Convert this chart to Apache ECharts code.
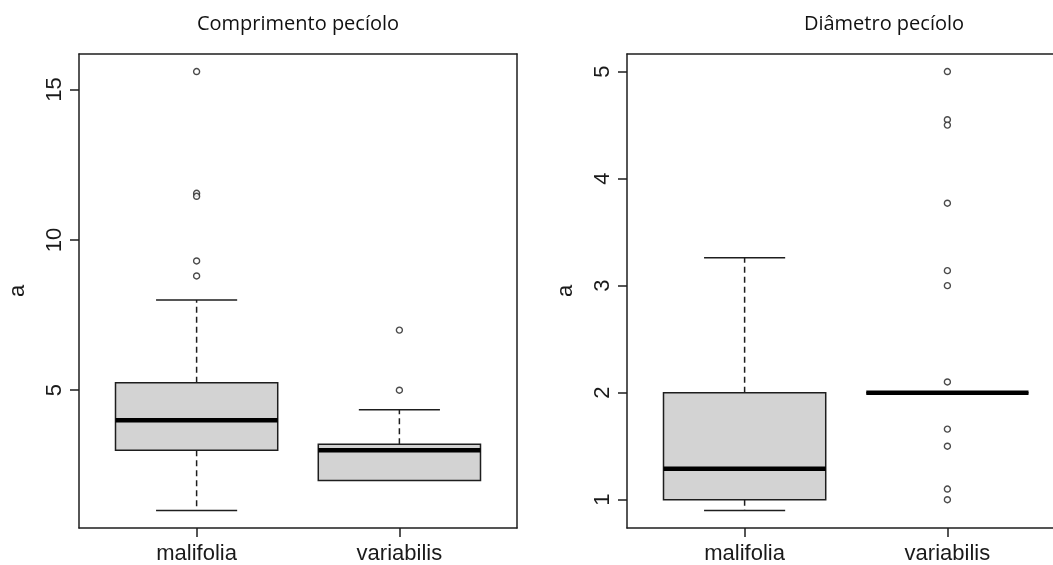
<!DOCTYPE html>
<html>
<head>
<meta charset="utf-8">
<script src="https://cdn.jsdelivr.net/npm/echarts@6/dist/echarts.min.js"></script>
<style>
html,body{margin:0;padding:0;background:#fff;overflow:hidden;}
#chart{width:1053px;height:565px;}
</style>
</head>
<body>
<div id="chart"></div>
<script>
// ---- data ----
const categories = ['malifolia', 'variabilis'];
const titleLeft = 'Comprimento pecíolo';
const titleRight = 'Diâmetro pecíolo';
const yName = 'a';
// [lower whisker, Q1, median, Q3, upper whisker]
const comprimentoStats = [[1.0, 3.0, 4.0, 5.25, 8.0], [2.0, 2.0, 3.0, 3.2, 4.35]];
const comprimentoOutliers = [[15.6, 11.55, 11.45, 9.3, 8.8], [7.0, 5.0]];
const diametroStats = [[0.9, 1.0, 1.29, 2.0, 3.26], [2.0, 2.0, 2.0, 2.0, 2.0]];
const diametroOutliers = [[], [5.0, 4.55, 4.5, 3.77, 3.14, 3.0, 2.1, 1.66, 1.5, 1.1, 1.0]];
const leftTicks = [5, 10, 15];
const rightTicks = [1, 2, 3, 4, 5];
const catPositions = [1, 2];

// ---- helpers ----
function range(stats, outliers) {
  let lo = Infinity, hi = -Infinity;
  stats.forEach(s => s.forEach(v => { lo = Math.min(lo, v); hi = Math.max(hi, v); }));
  outliers.forEach(o => o.forEach(v => { lo = Math.min(lo, v); hi = Math.max(hi, v); }));
  const pad = 0.04 * (hi - lo);
  return [lo - pad, hi + pad];
}
const leftRange = range(comprimentoStats, comprimentoOutliers);
const rightRange = range(diametroStats, diametroOutliers);

const ink = '#1e1e1e';
const labelFont = 'Liberation Sans, Arial, sans-serif';

function boxData(stats) {
  return stats.map((s, i) => [catPositions[i]].concat(s));
}
function outlierData(outs) {
  const d = [];
  outs.forEach((o, i) => o.forEach(v => d.push([catPositions[i], v])));
  return d;
}

function renderBox(params, api) {
  const x = api.value(0), lo = api.value(1), q1 = api.value(2), med = api.value(3), q3 = api.value(4), hi = api.value(5);
  const halfBox = api.size([0.4, 0])[0];
  const halfCap = api.size([0.2, 0])[0];
  const pLo = api.coord([x, lo]), pQ1 = api.coord([x, q1]), pMed = api.coord([x, med]), pQ3 = api.coord([x, q3]), pHi = api.coord([x, hi]);
  const cx = pMed[0];
  const children = [];
  const thin = { stroke: ink, lineWidth: 1.5 };
  if (hi > q3) {
    children.push({ type: 'line', shape: { x1: cx, y1: pQ3[1], x2: cx, y2: pHi[1] }, style: { stroke: ink, lineWidth: 1.5, lineDash: [6, 4] } });
    children.push({ type: 'line', shape: { x1: cx - halfCap, y1: pHi[1], x2: cx + halfCap, y2: pHi[1] }, style: thin });
  }
  if (lo < q1) {
    children.push({ type: 'line', shape: { x1: cx, y1: pQ1[1], x2: cx, y2: pLo[1] }, style: { stroke: ink, lineWidth: 1.5, lineDash: [6, 4] } });
    children.push({ type: 'line', shape: { x1: cx - halfCap, y1: pLo[1], x2: cx + halfCap, y2: pLo[1] }, style: thin });
  }
  children.push({ type: 'rect', shape: { x: cx - halfBox, y: pQ3[1], width: 2 * halfBox, height: pQ1[1] - pQ3[1] }, style: { fill: '#d3d3d3', stroke: ink, lineWidth: 1.5 } });
  children.push({ type: 'line', shape: { x1: cx - halfBox, y1: pMed[1], x2: cx + halfBox, y2: pMed[1] }, style: { stroke: '#000', lineWidth: 4.5 } });
  return { type: 'group', children: children };
}

const frameLine = { show: true, lineStyle: { color: ink, width: 1.5 } };
function xAxisDef(gridIndex) {
  return {
    gridIndex: gridIndex, type: 'value', min: 0.42, max: 2.58, position: 'bottom',
    axisLine: frameLine, splitLine: { show: false },
    axisTick: { show: true, customValues: catPositions, length: 9, lineStyle: { color: ink, width: 1.5 } },
    axisLabel: { customValues: catPositions, formatter: v => categories[Math.round(v) - 1], fontSize: 22, fontFamily: labelFont, color: '#1a1a1a', margin: 15 }
  };
}
function topAxisDef(gridIndex) {
  return {
    gridIndex: gridIndex, type: 'value', min: 0.42, max: 2.58, position: 'top',
    axisLine: frameLine, splitLine: { show: false }, axisTick: { show: false }, axisLabel: { show: false }
  };
}
function yAxisDef(gridIndex, rng, ticks) {
  return {
    gridIndex: gridIndex, type: 'value', min: rng[0], max: rng[1], position: 'left',
    name: yName, nameLocation: 'middle', nameGap: 50, nameRotate: 90,
    nameTextStyle: { fontSize: 22, fontFamily: labelFont, color: '#1a1a1a' },
    axisLine: frameLine, splitLine: { show: false },
    axisTick: { show: true, customValues: ticks, length: 9, lineStyle: { color: ink, width: 1.5 } },
    axisLabel: { customValues: ticks, rotate: 90, fontSize: 22, fontFamily: labelFont, color: '#1a1a1a', margin: 13 }
  };
}
function rightAxisDef(gridIndex, rng) {
  return {
    gridIndex: gridIndex, type: 'value', min: rng[0], max: rng[1], position: 'right',
    axisLine: frameLine, splitLine: { show: false }, axisTick: { show: false }, axisLabel: { show: false }
  };
}

const chart = echarts.init(document.getElementById('chart'));
chart.setOption({
  animation: false,
  backgroundColor: '#fff',
  title: [
    { text: titleLeft, left: 293, top: 9, textAlign: 'center', textStyle: { fontFamily: 'Open Sans', fontWeight: 'normal', fontSize: 20, color: '#111' } },
    { text: titleRight, left: 879, top: 9, textAlign: 'center', textStyle: { fontFamily: 'Open Sans', fontWeight: 'normal', fontSize: 20, color: '#111' } }
  ],
  grid: [
    { left: 79, top: 54, width: 438, height: 474, outerBoundsMode: 'none' },
    { left: 627, top: 54, width: 438, height: 474, outerBoundsMode: 'none' }
  ],
  xAxis: [xAxisDef(0), topAxisDef(0), xAxisDef(1), topAxisDef(1)],
  yAxis: [yAxisDef(0, leftRange, leftTicks), rightAxisDef(0, leftRange), yAxisDef(1, rightRange, rightTicks), rightAxisDef(1, rightRange)],
  series: [
    { type: 'custom', xAxisIndex: 0, yAxisIndex: 0, renderItem: renderBox, data: boxData(comprimentoStats), encode: { x: 0, y: [1, 2, 3, 4, 5] } },
    { type: 'scatter', xAxisIndex: 0, yAxisIndex: 0, data: outlierData(comprimentoOutliers), symbol: 'circle', symbolSize: 6, itemStyle: { color: '#fff', borderColor: ink, borderWidth: 1.4 } },
    { type: 'custom', xAxisIndex: 2, yAxisIndex: 2, renderItem: renderBox, data: boxData(diametroStats), encode: { x: 0, y: [1, 2, 3, 4, 5] } },
    { type: 'scatter', xAxisIndex: 2, yAxisIndex: 2, data: outlierData(diametroOutliers), symbol: 'circle', symbolSize: 6, itemStyle: { color: '#fff', borderColor: ink, borderWidth: 1.4 } }
  ]
});
</script>
</body>
</html>
